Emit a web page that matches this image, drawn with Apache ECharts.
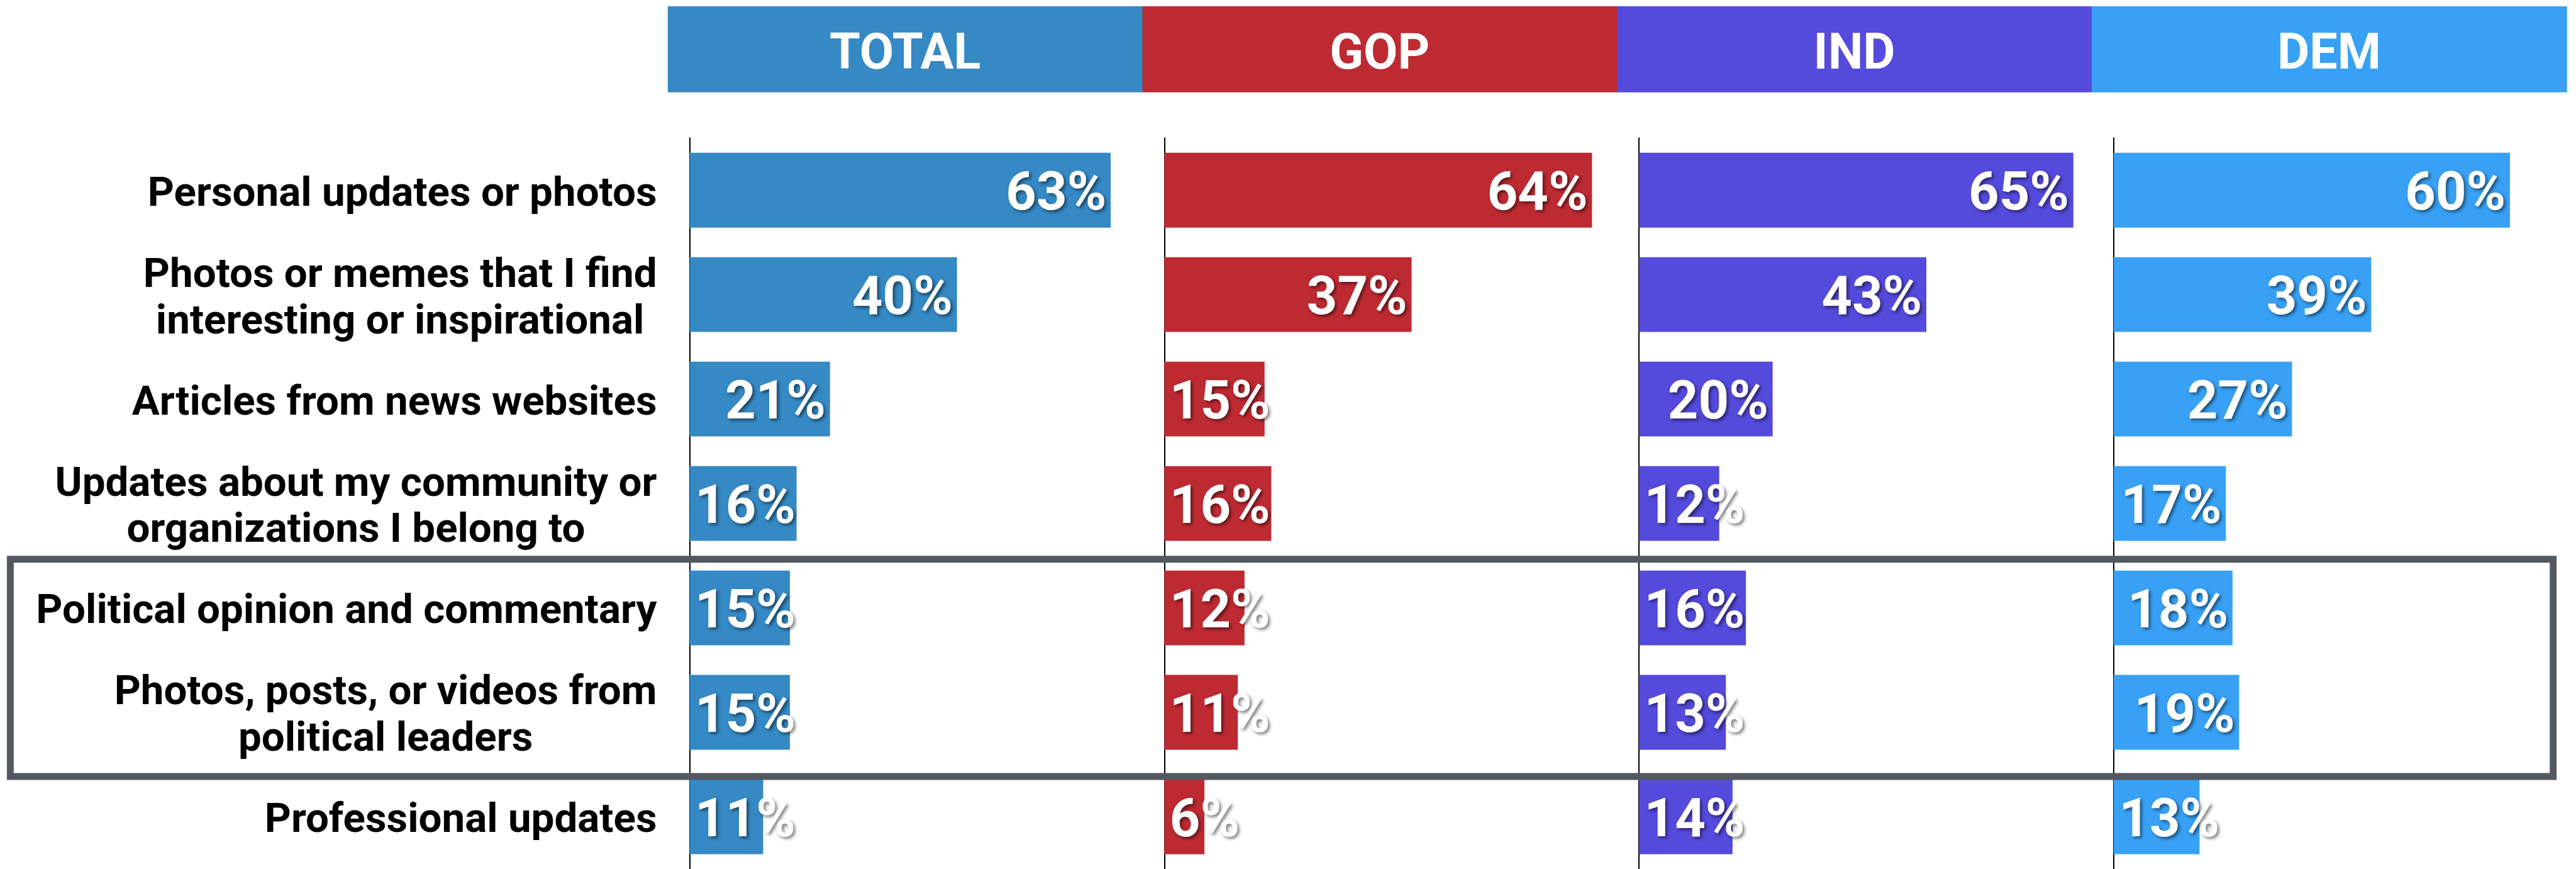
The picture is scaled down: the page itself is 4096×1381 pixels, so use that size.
<!DOCTYPE html>
<html>
<head>
<meta charset="utf-8">
<script src="https://cdn.jsdelivr.net/npm/echarts@6/dist/echarts.min.js"></script>
<style>
  html, body { margin: 0; padding: 0; background: #fff; }
  #chart { width: 4096px; height: 1381px; }
</style>
</head>
<body>
<div id="chart"></div>
<script>
// data
const categories = [
  'Personal updates or photos',
  'Photos or memes that I find\ninteresting or inspirational',
  'Articles from news websites',
  'Updates about my community or\norganizations I belong to',
  'Political opinion and commentary',
  'Photos, posts, or videos from\npolitical leaders',
  'Professional updates'
];
const groups = ['TOTAL', 'GOP', 'IND', 'DEM'];
const totalValues = [63, 40, 21, 16, 15, 15, 11];
const gopValues = [64, 37, 15, 16, 12, 11, 6];
const indValues = [65, 43, 20, 12, 16, 13, 14];
const demValues = [60, 39, 27, 17, 18, 19, 13];
const colors = ['#3589c5', '#be2a32', '#544adc', '#38a1f5'];

const S = 0.84;
const FONT = 'Roboto';
const gridLeft0 = 1305.5 * S;
const panelStep = 898.5 * S;
const axisMax = 70;
const gridWidth = axisMax * 12.65 * S;
const gridTop = 261 * S;
const gridHeight = 1384 * S;

const seriesValues = [totalValues, gopValues, indValues, demValues];

const chart = echarts.init(document.getElementById('chart'));

const grid = [], xAxis = [], yAxis = [], series = [], graphic = [];

groups.forEach((g, i) => {
  const left = gridLeft0 + i * panelStep;
  grid.push({ left: left, top: gridTop, width: gridWidth, height: gridHeight });
  xAxis.push({
    type: 'value', gridIndex: i, min: 0, max: axisMax,
    show: false
  });
  yAxis.push({
    type: 'category', gridIndex: i, inverse: true,
    data: categories,
    axisLine: { show: true, lineStyle: { color: '#000', width: 2 } },
    axisTick: { show: false },
    splitLine: { show: false },
    axisLabel: i === 0 ? {
      show: true,
      margin: 62 * S,
      padding: [16, 0, 0, 0],
      formatter: v => v.split('\n').map(s => '{c|' + s + '}').join('\n'),
      rich: {
        c: {
          align: 'center',
          fontFamily: FONT,
          fontWeight: 'bold',
          fontSize: 78 * S,
          lineHeight: 88 * S,
          color: '#000'
        }
      }
    } : { show: false }
  });
  series.push({
    name: g,
    type: 'bar',
    xAxisIndex: i,
    yAxisIndex: i,
    data: seriesValues[i],
    barWidth: 141.5 * S,
    itemStyle: { color: colors[i] },
    label: {
      show: true,
      position: 'insideRight',
      formatter: '{c}%',
      color: '#fff',
      fontFamily: FONT,
      fontWeight: 'bold',
      fontSize: 101 * S,
      textShadowColor: 'rgba(0,0,0,0.5)',
      textShadowBlur: 5,
      textShadowOffsetX: 3,
      textShadowOffsetY: 3
    },
    labelLayout: p => ({
      x: Math.max(p.rect.x + p.rect.width - 8 * S, p.rect.x + 10 * S + p.labelRect.width),
      y: p.rect.y + p.rect.height / 2 + 10,
      align: 'right',
      verticalAlign: 'middle'
    })
  });

  // header block above each panel
  const hx = left - 41.5 * S;
  graphic.push({
    type: 'rect',
    shape: { x: hx, y: 12 * S, width: panelStep + 1, height: 162.7 * S },
    style: { fill: colors[i] },
    z: 1
  });
  graphic.push({
    type: 'text',
    style: {
      text: g,
      x: hx + panelStep / 2,
      y: 97 * S + 8,
      fill: '#fff',
      fontFamily: FONT,
      fontWeight: 'bold',
      fontSize: 94 * S,
      align: 'center',
      verticalAlign: 'middle'
    },
    z: 2
  });
});

// highlight frame round the two political rows
graphic.push({
  type: 'rect',
  shape: { x: 19.5 * S, y: 1058 * S, width: (4833 - 19.5) * S, height: (1469 - 1058) * S },
  style: { fill: 'none', stroke: '#545860', lineWidth: 13 * S },
  z: 100
});

chart.setOption({
  animation: false,
  backgroundColor: '#fff',
  grid: grid,
  xAxis: xAxis,
  yAxis: yAxis,
  series: series,
  graphic: graphic
});
</script>
</body>
</html>
